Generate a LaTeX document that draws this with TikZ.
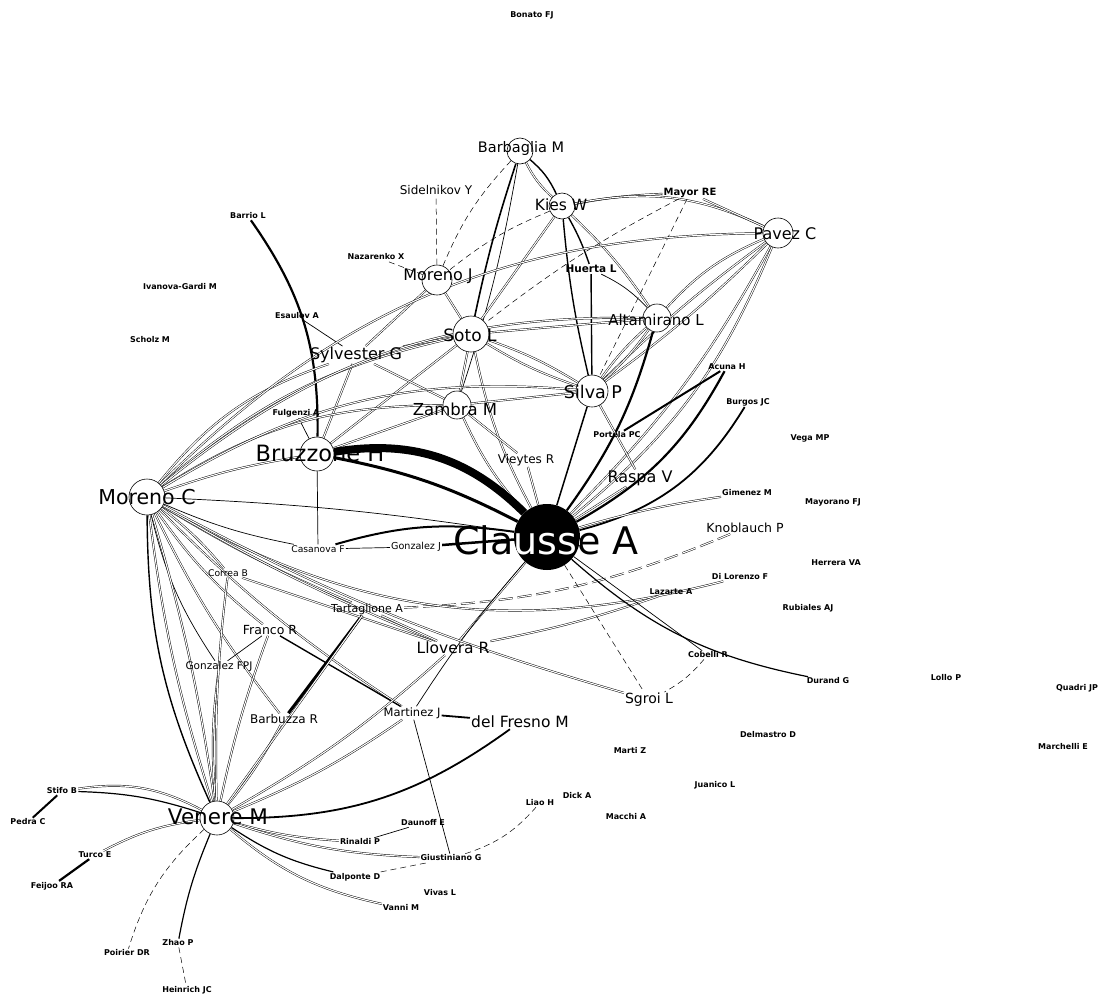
\documentclass[tikz,border=0pt]{standalone}
\usepackage{fontspec}
\setmainfont{DejaVu Sans}
\usetikzlibrary{backgrounds}
\tikzset{
  nethub/.style={circle,draw=black,line width=0.6pt,fill=white,inner sep=0pt},
  netcore/.style={circle,fill=black,inner sep=0pt,minimum size=66pt},
  labxl/.style={inner sep=1pt,font=\fontsize{38}{40}\selectfont},
  lablg/.style={inner sep=1pt,font=\fontsize{21.5}{23}\selectfont},
  labmd/.style={inner sep=1pt,font=\fontsize{15.5}{17}\selectfont},
  labsm/.style={inner sep=1pt,font=\fontsize{11.5}{12}\selectfont},
  labxs/.style={inner sep=1pt,font=\fontsize{8}{9}\selectfont\bfseries},
  netlink/.style={draw=black,line width=0.45pt,double=white,double distance=1.1pt},
  netbold/.style={draw=black,line width=2pt},
  netwide/.style={draw=black,line width=8pt},
  netthin/.style={draw=black,line width=0.7pt},
  netfaint/.style={draw=black,line width=0.5pt,dash pattern=on 6pt off 4pt}
}

\begin{document}
\begin{tikzpicture}[x=1pt,y=-1pt]
  \useasboundingbox (0,0) rectangle (1105,998);
  \node[netcore] (clausse) at (547,537) {};
  \node[nethub,minimum size=34pt] (bruzzone) at (317,454) {};
  \node[nethub,minimum size=36pt] (morenoc) at (147,497) {};
  \node[nethub,minimum size=34pt] (venere) at (217,818) {};
  \node[nethub,minimum size=36pt] (soto) at (471,334) {};
  \node[nethub,minimum size=32pt] (silva) at (592,391) {};
  \node[nethub,minimum size=28pt] (zambra) at (457,405) {};
  \node[nethub,minimum size=30pt] (morenoj) at (437,280) {};
  \node[nethub,minimum size=28pt] (altamirano) at (657,318) {};
  \node[nethub,minimum size=30pt] (pavez) at (778,233) {};
  \node[nethub,minimum size=26pt] (kies) at (562,206) {};
  \node[nethub,minimum size=26pt] (barbaglia) at (520,151) {};

  \node[labxl] (clausse-lbl) at (546,540) {Clausse A};
  \begin{scope}
    \clip (clausse.center) circle[radius=33pt];
    \node[labxl,text=white] (clausse-inv) at (546,540) {Clausse A};
  \end{scope}
  \node[lablg,font=\fontsize{22.5}{24}\selectfont] (bruzzone-lbl) at (320,453) {Bruzzone H};
  \node[lablg,font=\fontsize{20.5}{22}\selectfont] (morenoc-lbl) at (147,497) {Moreno C};
  \node[lablg] (venere-lbl) at (218,817) {Venere M};
  \node[labmd,font=\fontsize{17}{18}\selectfont] (soto-lbl) at (470,335) {Soto L};
  \node[labmd,font=\fontsize{17.5}{18}\selectfont] (silva-lbl) at (593,392) {Silva P};
  \node[labmd,font=\fontsize{16.5}{18}\selectfont] (zambra-lbl) at (455,409) {Zambra M};
  \node[labmd,font=\fontsize{16}{17}\selectfont] (morenoj-lbl) at (438,276) {Moreno J};
  \node[labmd,font=\fontsize{15}{16}\selectfont] (altamirano-lbl) at (656,320) {Altamirano L};
  \node[labmd,font=\fontsize{16}{17}\selectfont] (pavez-lbl) at (785,234) {Pavez C};
  \node[labmd] (kies-lbl) at (561,205) {Kies W};
  \node[labmd,font=\fontsize{14.5}{16}\selectfont] (barbaglia-lbl) at (521,148) {Barbaglia M};
  \node[labmd,font=\fontsize{16}{17}\selectfont] (sylvester) at (356,355) {Sylvester G};
  \node[labmd,font=\fontsize{16}{17}\selectfont] (raspa) at (640,478) {Raspa V};
  \node[labmd] (llovera) at (453,648) {Llovera R};
  \node[labmd] (delfresno) at (520,722) {del Fresno M};
  \node[labsm,font=\fontsize{12.5}{13}\selectfont] (knoblauch) at (745,528) {Knoblauch P};
  \node[labsm,font=\fontsize{11}{12}\selectfont] (tartaglione) at (367,609) {Tartaglione A};
  \node[labsm,font=\fontsize{12}{13}\selectfont] (barbuzza) at (284,719) {Barbuzza R};
  \node[labsm,font=\fontsize{12.5}{13}\selectfont] (franco) at (270,630) {Franco R};
  \node[labsm] (martinez) at (412,713) {Martinez J};
  \node[labsm,font=\fontsize{14}{15}\selectfont] (sgroi) at (649,700) {Sgroi L};
  \node[labsm,font=\fontsize{12}{13}\selectfont] (vieytes) at (526,460) {Vieytes R};
  \node[labsm,font=\fontsize{10.5}{11}\selectfont] (gonzalezfpj) at (219,667) {Gonzalez FPJ};
  \node[labsm,font=\fontsize{9.2}{10}\selectfont] (correa) at (228,573) {Correa B};
  \node[labsm,font=\fontsize{9.2}{10}\selectfont] (casanova) at (318,549) {Casanova F};
  \node[labsm,font=\fontsize{9.6}{10}\selectfont] (gonzalezj) at (416,547) {Gonzalez J};
  \node[labsm,font=\fontsize{12}{13}\selectfont] (sidelnikov) at (436,190) {Sidelnikov Y};
  \node[labxs,font=\fontsize{10.5}{11}\selectfont\bfseries] (huerta) at (591,269) {Huerta L};
  \node[labxs,font=\fontsize{10}{11}\selectfont\bfseries] (mayor) at (690,193) {Mayor RE};
  \node[labxs] (bonato) at (532,15) {Bonato FJ};
  \node[labxs] (barrio) at (248,216) {Barrio L};
  \node[labxs] (ivanova) at (180,287) {Ivanova-Gardi M};
  \node[labxs] (esaulov) at (297,316) {Esaulov A};
  \node[labxs] (scholz) at (150,340) {Scholz M};
  \node[labxs] (nazarenko) at (376,257) {Nazarenko X};
  \node[labxs] (fulgenzi) at (296,413) {Fulgenzi A};
  \node[labxs] (acuna) at (727,367) {Acuna H};
  \node[labxs] (burgos) at (748,402) {Burgos JC};
  \node[labxs] (vega) at (810,438) {Vega MP};
  \node[labxs] (portela) at (617,435) {Portela PC};
  \node[labxs] (gimenez) at (747,493) {Gimenez M};
  \node[labxs] (mayorano) at (833,502) {Mayorano FJ};
  \node[labxs] (herrera) at (836,563) {Herrera VA};
  \node[labxs] (dilorenzo) at (740,577) {Di Lorenzo F};
  \node[labxs] (rubiales) at (808,608) {Rubiales AJ};
  \node[labxs] (lazarte) at (671,592) {Lazarte A};
  \node[labxs] (cobelli) at (708,655) {Cobelli R};
  \node[labxs] (durand) at (828,681) {Durand G};
  \node[labxs] (lollo) at (946,678) {Lollo P};
  \node[labxs] (quadri) at (1077,688) {Quadri JP};
  \node[labxs] (delmastro) at (768,735) {Delmastro D};
  \node[labxs] (marchelli) at (1063,747) {Marchelli E};
  \node[labxs] (marti) at (630,751) {Marti Z};
  \node[labxs] (dick) at (577,796) {Dick A};
  \node[labxs] (liao) at (540,803) {Liao H};
  \node[labxs] (macchi) at (626,817) {Macchi A};
  \node[labxs] (juanico) at (715,785) {Juanico L};
  \node[labxs] (daunoff) at (423,823) {Daunoff E};
  \node[labxs] (rinaldi) at (360,842) {Rinaldi P};
  \node[labxs] (giustiniano) at (451,858) {Giustiniano G};
  \node[labxs] (dalponte) at (355,877) {Dalponte D};
  \node[labxs] (vivas) at (440,893) {Vivas L};
  \node[labxs] (vanni) at (401,908) {Vanni M};
  \node[labxs] (stifo) at (62,791) {Stifo B};
  \node[labxs] (pedra) at (28,822) {Pedra C};
  \node[labxs] (turco) at (95,855) {Turco E};
  \node[labxs] (feijoo) at (52,886) {Feijoo RA};
  \node[labxs] (poirier) at (127,953) {Poirier DR};
  \node[labxs] (zhao) at (178,943) {Zhao P};
  \node[labxs] (heinrich) at (187,990) {Heinrich JC};

  \begin{scope}[on background layer]
    \fill[white] (0,0) rectangle (1105,998);
    % top cluster
    \draw[netlink] (barbaglia) to[bend right=10] (kies);
    \draw[netbold,line width=1.4pt] (barbaglia) to[bend left=12] (kies);
    \draw[netbold,line width=1.6pt] (barbaglia) to[bend right=3] (soto);
    \draw[netthin] (barbaglia) to[bend left=4] (zambra);
    \draw[netfaint] (barbaglia) to[bend right=10] (morenoj);
    \draw[netlink] (kies) to[bend left=4] (mayor);
    \draw[netlink] (kies) to[bend left=18] (pavez);
    \draw[netbold,line width=1.4pt] (kies) to[bend left=5] (huerta);
    \draw[netbold,line width=1.4pt] (kies) to[bend right=4] (silva);
    \draw[netlink] (kies) to[bend left=6] (altamirano);
    \draw[netlink] (kies) -- (soto);
    \draw[netfaint] (kies) to[bend right=8] (morenoj);
    \draw[netbold,line width=1.4pt] (huerta) -- (silva);
    \draw[netthin] (huerta) to[bend left=10] (altamirano);
    \draw[netlink] (mayor) -- (pavez);
    \draw[netfaint] (mayor) -- (silva);
    \draw[netfaint] (mayor) to[bend right=5] (soto);
    \draw[netlink] (pavez) to[bend right=12] (altamirano);
    \draw[netlink] (pavez) to[bend left=4] (silva);
    \draw[netlink] (pavez) to[bend right=4] (silva);
    \draw[netlink] (pavez) to[bend left=8] (clausse);
    \draw[netlink] (pavez) to[bend left=14] (clausse);
    \draw[netlink] (altamirano) to[bend left=6] (silva);
    \draw[netlink] (altamirano) to[bend right=6] (silva);
    \draw[netbold,line width=2.2pt] (altamirano) to[bend left=10] (clausse);
    \draw[netlink] (altamirano) -- (soto);
    \draw[netlink] (soto) -- (morenoj);
    \draw[netlink] (soto) -- (sylvester);
    \draw[netlink] (soto) -- (zambra);
    \draw[netlink] (soto) to[bend left=6] (silva);
    \draw[netlink] (soto) to[bend right=6] (silva);
    \draw[netlink] (soto) -- (bruzzone);
    \draw[netlink] (soto) to[bend right=8] (clausse);
    \draw[netlink] (sylvester) -- (morenoj);
    \draw[netlink] (sylvester) -- (bruzzone);
    \draw[netlink] (sylvester) -- (zambra);
    \draw[netthin] (esaulov) -- (sylvester);
    \draw[netfaint] (morenoj) -- (nazarenko);
    \draw[netfaint] (morenoj) -- (sidelnikov);
    \draw[netlink] (zambra) -- (bruzzone);
    \draw[netlink] (zambra) -- (silva);
    \draw[netlink] (zambra) -- (vieytes);
    \draw[netlink] (zambra) to[bend right=8] (clausse);
    \draw[netbold,line width=2.2pt] (barrio) to[bend left=18] (bruzzone);
    \draw[netthin] (fulgenzi) -- (bruzzone);
    % right of Clausse
    \draw[netbold,line width=1.5pt] (silva) -- (clausse);
    \draw[netlink] (silva) -- (raspa);
    \draw[netlink] (raspa) -- (clausse);
    \draw[netbold,line width=2.2pt] (acuna) to[bend left=16] (clausse);
    \draw[netbold] (acuna) -- (portela);
    \draw[netbold,line width=1.8pt] (burgos) to[bend left=22] (clausse);
    \draw[netlink] (clausse) to[bend left=4] (gimenez);
    \draw[netlink,dash pattern=on 14pt off 5pt] (tartaglione) to[bend right=10] (knoblauch);
    \draw[netlink] (morenoc) to[bend right=22] (dilorenzo);
    \draw[netlink] (llovera) to[bend right=4] (lazarte);
    \draw[netthin] (clausse) -- (cobelli);
    \draw[netthin,line width=1.2pt] (clausse) to[bend right=15] (durand);
    \draw[netfaint] (clausse) -- (sgroi);
    \draw[netfaint] (cobelli) to[bend left=10] (sgroi);
    \draw[netlink] (clausse) -- (llovera);
    \draw[netthin] (clausse) to[bend right=4] (martinez);
    \draw[netlink] (clausse) -- (vieytes);
    % Bruzzone to Clausse
    \draw[netwide] (bruzzone) to[bend left=27] (clausse);
    \draw[netbold,line width=3pt] (bruzzone) to[bend left=8] (clausse);
    \draw[netthin] (bruzzone) -- (casanova);
    \draw[netbold] (casanova) to[bend left=12] (clausse);
    \draw[netbold,line width=2.5pt] (gonzalezj) -- (clausse);
    \draw[netthin] (casanova) -- (gonzalezj);
    % Moreno C
    \draw[netlink] (morenoc) to[bend left=5] (bruzzone);
    \draw[netthin] (morenoc) to[bend left=3] (clausse);
    \draw[netthin] (morenoc) to[bend right=6] (casanova);
    \draw[netlink] (morenoc) to[bend left=16] (sylvester);
    \draw[netlink] (morenoc) to[bend left=14] (soto);
    \draw[netlink] (morenoc) to[bend left=16] (zambra);
    \draw[netlink] (morenoc) to[bend left=18] (silva);
    \draw[netlink] (morenoc) to[bend left=20] (altamirano);
    \draw[netlink] (morenoc) to[bend left=22] (pavez);
    \draw[netlink] (morenoc) to[bend left=6] (correa);
    \draw[netlink] (morenoc) to[bend right=4] (tartaglione);
    \draw[netlink] (morenoc) to[bend right=4] (llovera);
    \draw[netlink] (morenoc) to[bend right=6] (martinez);
    \draw[netlink] (morenoc) to[bend right=6] (sgroi);
    \draw[netlink] (morenoc) to[bend right=8] (franco);
    \draw[netthin] (morenoc) to[bend right=10] (gonzalezfpj);
    \draw[netlink] (morenoc) to[bend right=6] (barbuzza);
    \draw[netbold,line width=1.4pt] (morenoc) to[bend right=12] (venere);
    \draw[netlink] (morenoc) to[bend right=5] (venere);
    \draw[netlink] (morenoc) to[bend left=4] (venere);
    % middle band
    \draw[netbold,line width=3pt] (tartaglione) -- (barbuzza);
    \draw[netbold,line width=1.4pt] (franco) -- (martinez);
    \draw[netthin] (gonzalezfpj) -- (franco);
    \draw[netlink] (correa) -- (llovera);
    \draw[netlink] (tartaglione) -- (llovera);
    \draw[netbold,line width=1.8pt] (martinez) -- (delfresno);
    \draw[netthin] (martinez) -- (giustiniano);
    % Venere
    \draw[netlink] (venere) to[bend right=18] (stifo);
    \draw[netbold,line width=1.2pt] (venere) to[bend right=8] (stifo);
    \draw[netbold] (pedra) -- (stifo);
    \draw[netlink] (venere) to[bend right=10] (turco);
    \draw[netbold,line width=2.2pt] (turco) -- (feijoo);
    \draw[netfaint] (venere) to[bend right=15] (poirier);
    \draw[netthin,line width=1.2pt] (venere) to[bend right=6] (zhao);
    \draw[netfaint] (zhao) -- (heinrich);
    \draw[netlink] (venere) to[bend right=6] (rinaldi);
    \draw[netbold,line width=1.2pt] (venere) to[bend right=10] (dalponte);
    \draw[netlink] (venere) to[bend right=14] (vanni);
    \draw[netlink] (venere) to[bend right=8] (giustiniano);
    \draw[netbold,line width=1.8pt] (venere) to[bend right=18] (delfresno);
    \draw[netlink] (venere) to[bend right=6] (martinez);
    \draw[netlink] (venere) to[bend right=5] (barbuzza);
    \draw[netlink] (venere) to[bend left=4] (franco);
    \draw[netlink] (venere) -- (tartaglione);
    \draw[netlink] (venere) to[bend left=6] (gonzalezfpj);
    \draw[netlink] (venere) to[bend left=4] (correa);
    \draw[netlink] (venere) to[bend right=6] (llovera);
    \draw[netthin] (rinaldi) -- (daunoff);
    \draw[netfaint] (dalponte) -- (giustiniano);
    \draw[netfaint] (giustiniano) to[bend right=15] (liao);
  \end{scope}
\end{tikzpicture}
\end{document}
